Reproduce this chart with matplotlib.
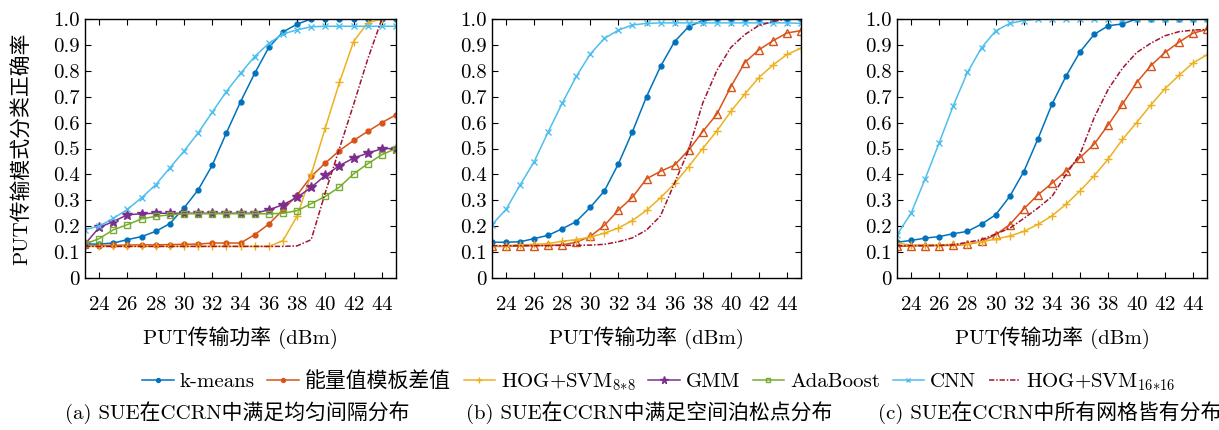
import numpy as np
import matplotlib
matplotlib.use('Agg')
import matplotlib.pyplot as plt

plt.rcParams['font.family'] = ['cmr10', 'Noto Sans CJK SC']
plt.rcParams['mathtext.fontset'] = 'cm'
plt.rcParams['axes.formatter.use_mathtext'] = True
plt.rcParams['font.size'] = 15

# x axis: PUT transmit power (dBm)
power = list(range(23, 46))

# (a) uniform spacing
km_a = [0.131, 0.131, 0.135, 0.148, 0.160, 0.180, 0.210, 0.270, 0.340, 0.435, 0.560, 0.680,
        0.790, 0.890, 0.950, 0.980, 1.0, 1.0, 1.0, 1.0, 1.0, 1.0, 1.0]
energy_a = [0.122, 0.125, 0.126, 0.127, 0.128, 0.128, 0.129, 0.130, 0.131, 0.135, 0.135, 0.135,
            0.167, 0.208, 0.263, 0.320, 0.392, 0.444, 0.492, 0.531, 0.566, 0.600, 0.630]
hog8_a = [0.122] * 14 + [0.144, 0.238, 0.400, 0.580, 0.755, 0.913, 0.986, 1.0, 1.0]
gmm_a = [0.131, 0.195, 0.218, 0.244, 0.248, 0.250, 0.250, 0.250, 0.250, 0.250, 0.250, 0.250,
         0.250, 0.263, 0.283, 0.311, 0.350, 0.396, 0.434, 0.463, 0.482, 0.499, 0.500]
ada_a = [0.131, 0.152, 0.186, 0.206, 0.228, 0.238, 0.244, 0.248, 0.248, 0.248, 0.248, 0.248,
         0.248, 0.248, 0.250, 0.260, 0.287, 0.315, 0.351, 0.402, 0.441, 0.476, 0.500]
cnn_a = [0.187, 0.200, 0.230, 0.265, 0.310, 0.360, 0.425, 0.490, 0.560, 0.640, 0.720, 0.790,
         0.855, 0.906, 0.942, 0.958, 0.970, 0.972, 0.972, 0.972, 0.972, 0.972, 0.972]
hog16_a = [0.122] * 15 + [0.124, 0.148, 0.330, 0.500, 0.670, 0.845, 1.0, 1.0]

# (b) Poisson point distribution
km_b = [0.138, 0.138, 0.140, 0.152, 0.165, 0.190, 0.218, 0.273, 0.336, 0.441, 0.565, 0.700,
        0.817, 0.913, 0.970, 0.994, 1.0, 1.0, 1.0, 1.0, 1.0, 1.0, 1.0]
energy_b = [0.122, 0.122, 0.124, 0.125, 0.126, 0.128, 0.138, 0.161, 0.203, 0.262, 0.312, 0.383,
            0.412, 0.436, 0.494, 0.565, 0.632, 0.738, 0.832, 0.881, 0.916, 0.946, 0.955]
hog8_b = [0.123, 0.125, 0.128, 0.130, 0.133, 0.142, 0.148, 0.158, 0.173, 0.193, 0.222, 0.261,
          0.310, 0.365, 0.430, 0.500, 0.567, 0.643, 0.710, 0.774, 0.822, 0.863, 0.887]
cnn_b = [0.206, 0.265, 0.359, 0.449, 0.564, 0.675, 0.778, 0.865, 0.925, 0.957, 0.977, 0.983,
         0.985, 0.985, 0.985, 0.985, 0.985, 0.985, 0.985, 0.985, 0.985, 0.985, 0.983]
hog16_b = [0.125, 0.125, 0.125, 0.125, 0.125, 0.126, 0.126, 0.127, 0.130, 0.140, 0.155, 0.185,
           0.240, 0.367, 0.494, 0.675, 0.800, 0.890, 0.940, 0.975, 0.990, 1.0, 1.0]

# (c) every grid occupied
km_c = [0.138, 0.145, 0.154, 0.160, 0.171, 0.180, 0.208, 0.244, 0.315, 0.411, 0.537, 0.671,
        0.780, 0.874, 0.941, 0.974, 0.981, 1.0, 1.0, 1.0, 1.0, 1.0, 1.0]
energy_c = [0.122, 0.124, 0.125, 0.125, 0.126, 0.130, 0.141, 0.167, 0.206, 0.267, 0.321, 0.366,
            0.413, 0.465, 0.517, 0.592, 0.671, 0.754, 0.819, 0.870, 0.910, 0.945, 0.960]
hog8_c = [0.135, 0.127, 0.128, 0.128, 0.130, 0.132, 0.140, 0.150, 0.162, 0.180, 0.207, 0.240,
          0.285, 0.337, 0.395, 0.460, 0.535, 0.600, 0.667, 0.730, 0.782, 0.830, 0.862]
cnn_c = [0.167, 0.250, 0.383, 0.523, 0.666, 0.794, 0.889, 0.954, 0.983, 0.994] + [1.0] * 13
hog16_c = [0.125, 0.125, 0.125, 0.126, 0.128, 0.138, 0.148, 0.170, 0.192, 0.230, 0.270, 0.315,
           0.400, 0.480, 0.620, 0.730, 0.810, 0.870, 0.906, 0.935, 0.951, 0.957, 0.960]

xticks = [24, 26, 28, 30, 32, 34, 36, 38, 40, 42, 44]
yticks = [0, 0.1, 0.2, 0.3, 0.4, 0.5, 0.6, 0.7, 0.8, 0.9, 1.0]
ytick_labels = ['0', '0.1', '0.2', '0.3', '0.4', '0.5', '0.6', '0.7', '0.8', '0.9', '1.0']
captions = ['(a) SUE在CCRN中满足均匀间隔分布', '(b) SUE在CCRN中满足空间泊松点分布',
            '(c) SUE在CCRN中所有网格皆有分布']

c_km = '#0072BD'
c_en = '#D95319'
c_h8 = '#EDB120'
c_gmm = '#7E2F8E'
c_ada = '#77AC30'
c_cnn = '#4DBEEE'
c_h16 = '#A2142F'
lw = 1.1

fig = plt.figure(figsize=(12.19, 4.30), dpi=100)
lefts = [85, 492, 897]
widths = [311, 309, 310]
axes = [fig.add_axes([l / 1219, 1 - 278 / 430, w / 1219, 259 / 430]) for l, w in zip(lefts, widths)]


def style_ax(ax, first):
    ax.set_xlim(23, 45)
    ax.set_ylim(0, 1.0)
    ax.set_xticks(xticks)
    ax.set_yticks(yticks)
    ax.set_yticklabels(ytick_labels)
    ax.tick_params(direction='in', top=True, right=True, length=4, width=0.8)
    ax.tick_params(axis='x', pad=13)
    ax.tick_params(axis='y', pad=4)
    ax.set_xlabel('PUT传输功率 (dBm)', labelpad=9)
    if first:
        ax.set_ylabel('PUT传输模式分类正确率', labelpad=15)
    for s in ax.spines.values():
        s.set_linewidth(1.0)


ax = axes[0]
ax.plot(power, km_a, color=c_km, lw=lw, marker='o', ms=3.5, label='k-means')
ax.plot(power, energy_a, color=c_en, lw=lw, marker='o', ms=3.5, label='能量值模板差值')
ax.plot(power, hog8_a, color=c_h8, lw=lw, marker='+', ms=6, label='HOG+SVM$_{8{*}8}$')
ax.plot(power, gmm_a, color=c_gmm, lw=lw, marker='*', ms=7, label='GMM')
ax.plot(power, ada_a, color=c_ada, lw=lw, marker='s', ms=4, mfc='none', label='AdaBoost')
ax.plot(power, cnn_a, color=c_cnn, lw=lw, marker='x', ms=4, label='CNN')
ax.plot(power, hog16_a, color=c_h16, lw=lw, dashes=(3.5, 1.2, 1, 1.2), label='HOG+SVM$_{16{*}16}$')
style_ax(ax, True)

for ax, km, en, h8, cnn, h16 in [(axes[1], km_b, energy_b, hog8_b, cnn_b, hog16_b),
                                 (axes[2], km_c, energy_c, hog8_c, cnn_c, hog16_c)]:
    ax.plot(power, km, color=c_km, lw=lw, marker='o', ms=3.5)
    ax.plot(power, en, color=c_en, lw=lw, marker='^', ms=6, mfc='none')
    ax.plot(power, h8, color=c_h8, lw=lw, marker='+', ms=6)
    ax.plot(power, cnn, color=c_cnn, lw=lw, marker='x', ms=4)
    ax.plot(power, h16, color=c_h16, lw=lw, dashes=(3.5, 1.2, 1, 1.2))
    style_ax(ax, False)

handles, labels = axes[0].get_legend_handles_labels()
fig.legend(handles, labels, loc='center', bbox_to_anchor=(659 / 1219, 1 - 382 / 430), ncol=7,
           frameon=False, handlelength=1.5, handletextpad=0.3, columnspacing=0.6,
           borderaxespad=0, markerscale=0.8)

cap_x = [237, 649, 878]
for i, (cx, cap) in enumerate(zip(cap_x, captions)):
    fig.text(cx / 1219, 1 - 413 / 430, cap, ha='left' if i == 2 else 'center', va='center')

fig.savefig('out.png', dpi=100)
